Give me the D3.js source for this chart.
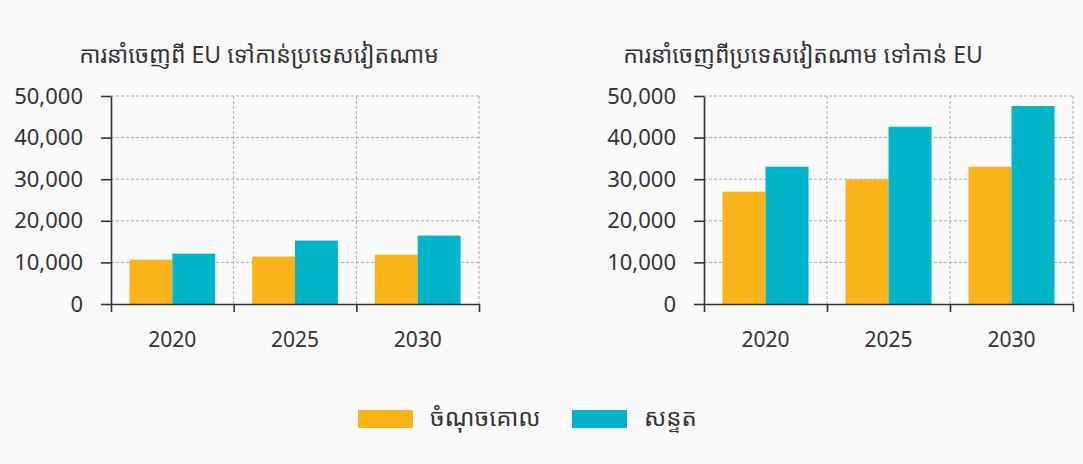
<!DOCTYPE html>
<html lang="km">
<head>
<meta charset="UTF-8">
<title>EU – Vietnam exports</title>
<script src="https://d3js.org/d3.v7.min.js"></script>
<style>
  html, body { margin: 0; padding: 0; background: #fafafa; }
  svg text { font-family: "Noto Sans", "Noto Sans Khmer", "Khmer OS", "DejaVu Sans", sans-serif; fill: #333; }
</style>
</head>
<body>
<svg id="chart" width="1083" height="464"></svg>
<script>
// data
const years = ['2020', '2025', '2030'];
const seriesNames = ['ចំណុចគោល', 'សន្ទត'];
const baselineEuToVn = [10650, 11400, 11850];
const scenarioEuToVn = [12100, 15250, 16450];
const baselineVnToEu = [27000, 30000, 33000];
const scenarioVnToEu = [33000, 42600, 47600];
const yTicks = [0, 10000, 20000, 30000, 40000, 50000];
const titles = ['ការនាំចេញពី EU ទៅកាន់ប្រទេសវៀតណាម', 'ការនាំចេញពីប្រទេសវៀតណាម ទៅកាន់ EU'];

const colors = ['#fab419', '#00b5c9'];
const svg = d3.select('#chart');

const plotTop = 96, plotBottom = 304;
const y = d3.scaleLinear().domain([0, 50000]).range([plotBottom, plotTop]);

const panels = [
  { left: 111, right: 479, titleX: 259, title: titles[0], values: [baselineEuToVn, scenarioEuToVn] },
  { left: 704, right: 1073, titleX: 803, title: titles[1], values: [baselineVnToEu, scenarioVnToEu] }
];

panels.forEach(p => {
  const g = svg.append('g');
  const x0 = d3.scaleBand().domain(years).range([p.left, p.right]).padding(0);
  const x1 = d3.scaleBand().domain(seriesNames).range([0, x0.bandwidth()]).paddingInner(0).paddingOuter(0.43);
  const edges = d3.scaleLinear().domain([0, years.length]).range([p.left, p.right]);

  // horizontal grid
  g.append('g').selectAll('line')
    .data(yTicks.filter(d => d > 0))
    .join('line')
    .attr('x1', p.left).attr('x2', p.right)
    .attr('y1', d => y(d)).attr('y2', d => y(d))
    .attr('stroke', '#a8a8a8').attr('stroke-width', 1).attr('stroke-dasharray', '3,2');

  // vertical grid at category edges
  g.append('g').selectAll('line')
    .data([1, 2, 3])
    .join('line')
    .attr('x1', d => edges(d)).attr('x2', d => edges(d))
    .attr('y1', plotTop).attr('y2', plotBottom)
    .attr('stroke', '#a8a8a8').attr('stroke-width', 1).attr('stroke-dasharray', '3,2');

  // bars
  const groups = g.append('g').selectAll('g')
    .data(years)
    .join('g')
    .attr('transform', d => `translate(${x0(d)},0)`);
  groups.selectAll('rect')
    .data((d, i) => seriesNames.map((s, k) => ({ s, k, v: p.values[k][i] })))
    .join('rect')
    .attr('x', d => x1(d.s))
    .attr('width', x1.bandwidth())
    .attr('y', d => y(d.v))
    .attr('height', d => plotBottom - y(d.v))
    .attr('fill', d => colors[d.k]);

  // y axis
  const yAxis = g.append('g')
    .attr('transform', `translate(${p.left},0)`)
    .call(d3.axisLeft(y).tickValues(yTicks).tickFormat(d3.format(',')).tickSize(10).tickSizeOuter(0).tickPadding(18));
  yAxis.selectAll('text').style('font-size', '22px');
  yAxis.selectAll('line, path').attr('stroke', '#333').attr('stroke-width', 1.6);

  // x axis: edge ticks
  const xEdge = g.append('g')
    .attr('transform', `translate(0,${plotBottom})`)
    .call(d3.axisBottom(edges).tickValues([0, 1, 2, 3]).tickFormat('').tickSize(8).tickSizeOuter(0));
  xEdge.selectAll('line, path').attr('stroke', '#333').attr('stroke-width', 1.6);

  // x axis labels
  const xLab = g.append('g')
    .attr('transform', `translate(0,${plotBottom})`)
    .call(d3.axisBottom(x0).tickSize(0).tickPadding(28));
  xLab.select('.domain').remove();
  xLab.selectAll('text').style('font-size', '21px');

  // title
  g.append('text')
    .attr('x', p.titleX).attr('y', 63)
    .attr('text-anchor', 'middle')
    .style('font-size', '23px')
    .text(p.title);
});

// legend
const legendX = [358, 572];
const legend = svg.append('g').selectAll('g')
  .data(seriesNames)
  .join('g')
  .attr('transform', (d, i) => `translate(${legendX[i]},410)`);
legend.append('rect')
  .attr('width', 55).attr('height', 18)
  .attr('fill', (d, i) => colors[i]);
legend.append('text')
  .attr('x', 72).attr('y', 16)
  .style('font-size', '24px')
  .text(d => d);
</script>
</body>
</html>
